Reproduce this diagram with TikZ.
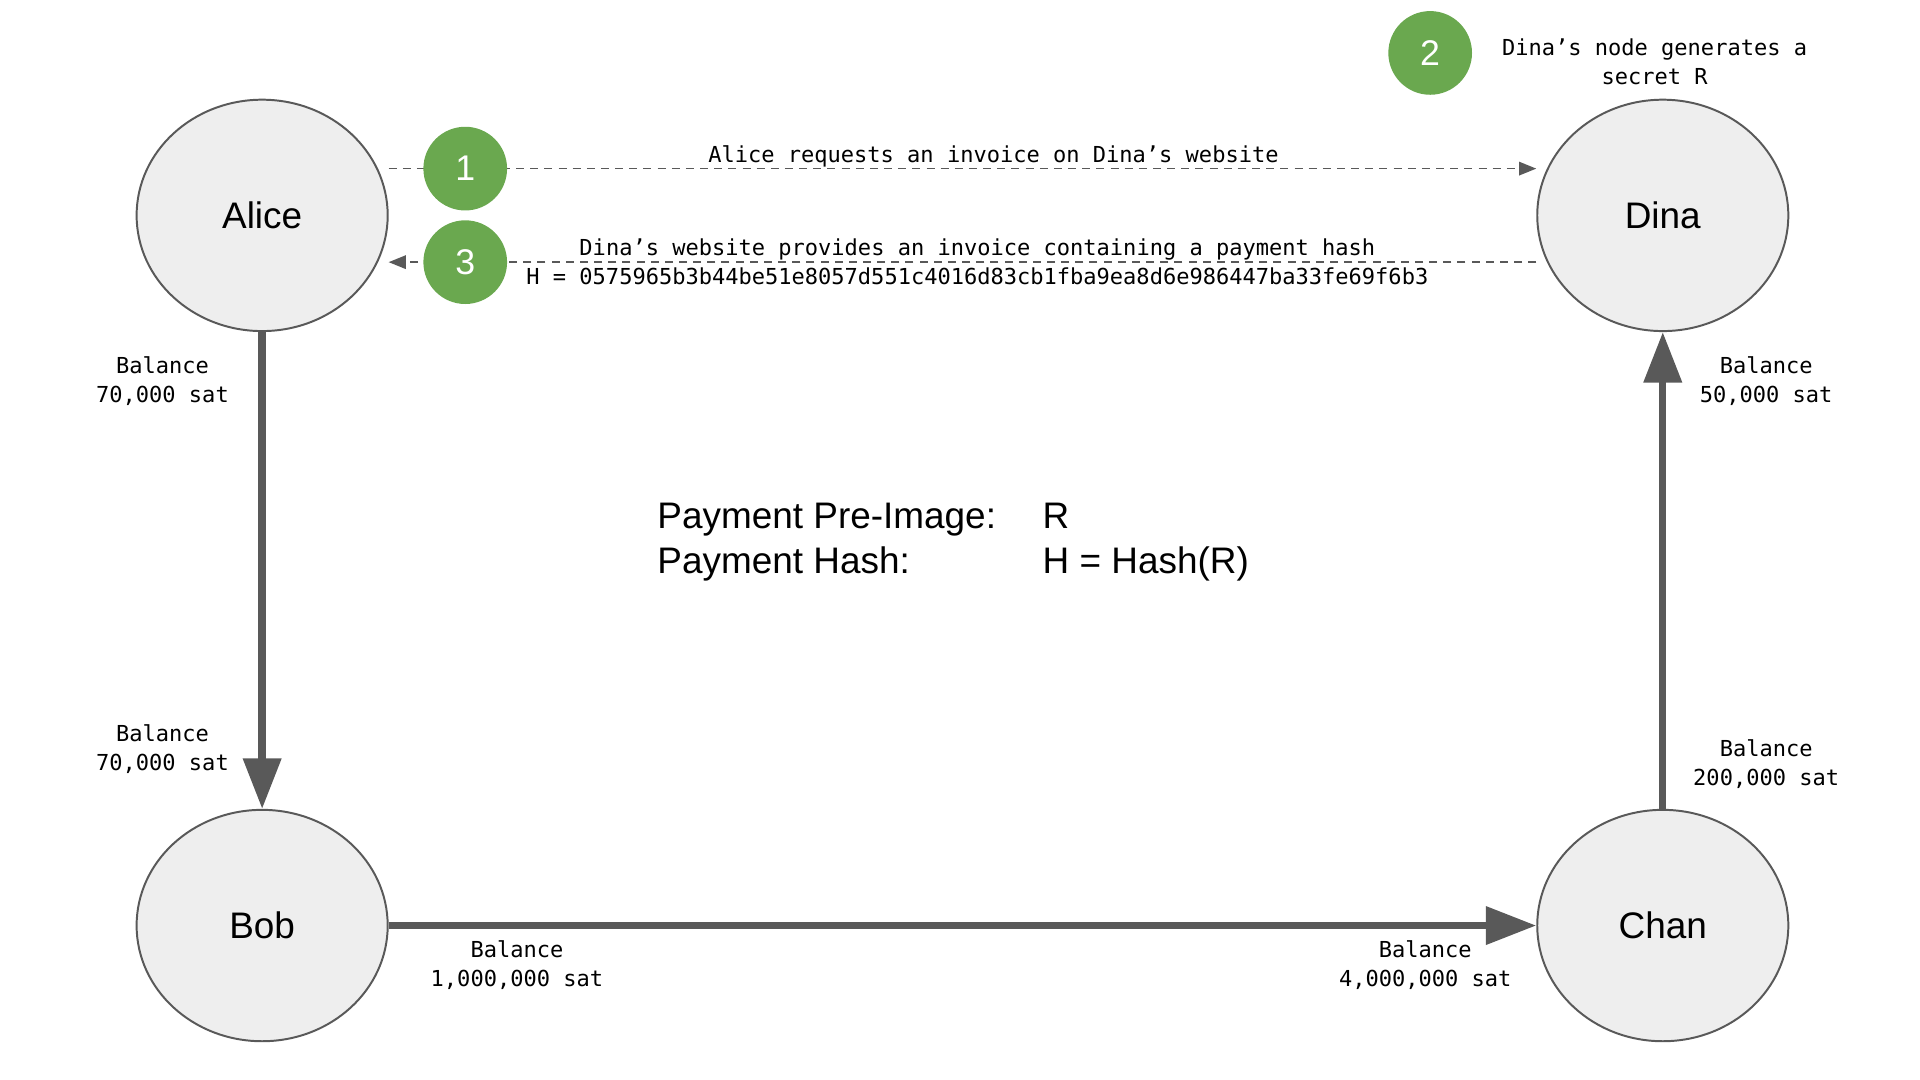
\documentclass[tikz,border=0pt]{standalone}
\usepackage{fontspec}
\setmainfont{Liberation Sans}
\setmonofont{DejaVu Sans Mono}
\usepackage{xcolor}
\usepackage{tikz}
\usetikzlibrary{shapes,positioning,calc,arrows.meta}
\definecolor{peerfill}{HTML}{EEEEEE}
\definecolor{linkgray}{HTML}{595959}
\definecolor{stepgreen}{HTML}{6AA84F}

\begin{document}
\begin{tikzpicture}[x=1pt, y=-1pt,
    peer/.style={ellipse, draw=linkgray, line width=1.6pt, fill=peerfill, text=black, minimum width=204pt, minimum height=188pt, inner sep=0pt, font=\fontsize{30}{36}\selectfont},
    stepdot/.style={circle, fill=stepgreen, text=white, minimum size=68pt, inner sep=0pt, font=\fontsize{29}{34}\selectfont},
    note/.style={align=center, inner sep=0pt, text=black, font=\fontsize{17.9}{23.5}\selectfont\ttfamily},
    channel/.style={linkgray, line width=6pt, -{Triangle[length=41pt, width=30pt]}},
    msg/.style={linkgray, line width=1.3pt, dash pattern=on 6.5pt off 5pt, -{Triangle[length=14pt, width=11pt]}}]
    \useasboundingbox (0,0) rectangle (1560,877.5);

    % Peers
    \node[peer] (Alice) at (213,175) {Alice};
    \node[peer] (Dina) at (1351,175) {Dina};
    \node[peer] (Bob) at (213,752) {Bob};
    \node[peer] (Chan) at (1351,752) {Chan};

    % Payment channels
    \draw[channel] (Alice) -- (Bob);
    \draw[channel] (Bob) -- (Chan);
    \draw[channel] (Chan) -- (Dina);

    % Balances
    \node[note] (balAB) at (132,310) {Balance\\70,000 sat};
    \node[note] (balBA) at (132,609) {Balance\\70,000 sat};
    \node[note] (balBC) at (420,784) {Balance\\1,000,000 sat};
    \node[note] (balCB) at (1158,784) {Balance\\4,000,000 sat};
    \node[note] (balCD) at (1435,621) {Balance\\200,000 sat};
    \node[note] (balDC) at (1435,310) {Balance\\50,000 sat};

    % Invoice messages
    \draw[msg] ($(Alice.east)+(0,-38)$) -- node[note, pos=.527, yshift=10pt] (ask) {Alice requests an invoice on Dina’s website} ($(Dina.west)+(0,-38)$);
    \draw[msg] ($(Dina.west)+(0,38)$) -- node[note, pos=.487] (reply) {Dina’s website provides an invoice containing a payment hash\\H = 0575965b3b44be51e8057d551c4016d83cb1fba9ea8d6e986447ba33fe69f6b3} ($(Alice.east)+(0,38)$);

    % Steps
    \foreach \n/\x/\y in {1/378/137, 2/1162/43, 3/378/213}
        \node[stepdot] (step\n) at (\x,\y) {\n};
    \node[note, right=24pt of step2, yshift=-7pt] (secret) {Dina’s node generates a\\secret R};

    % Pre-image and hash
    \node[anchor=west, align=left, inner sep=0pt, font=\fontsize{30}{37}\selectfont] (hashinfo) at (534,440.5)
        {\makebox[313pt][l]{Payment Pre-Image:}R\\\makebox[313pt][l]{Payment Hash:}H = Hash(R)};
\end{tikzpicture}
\end{document}
